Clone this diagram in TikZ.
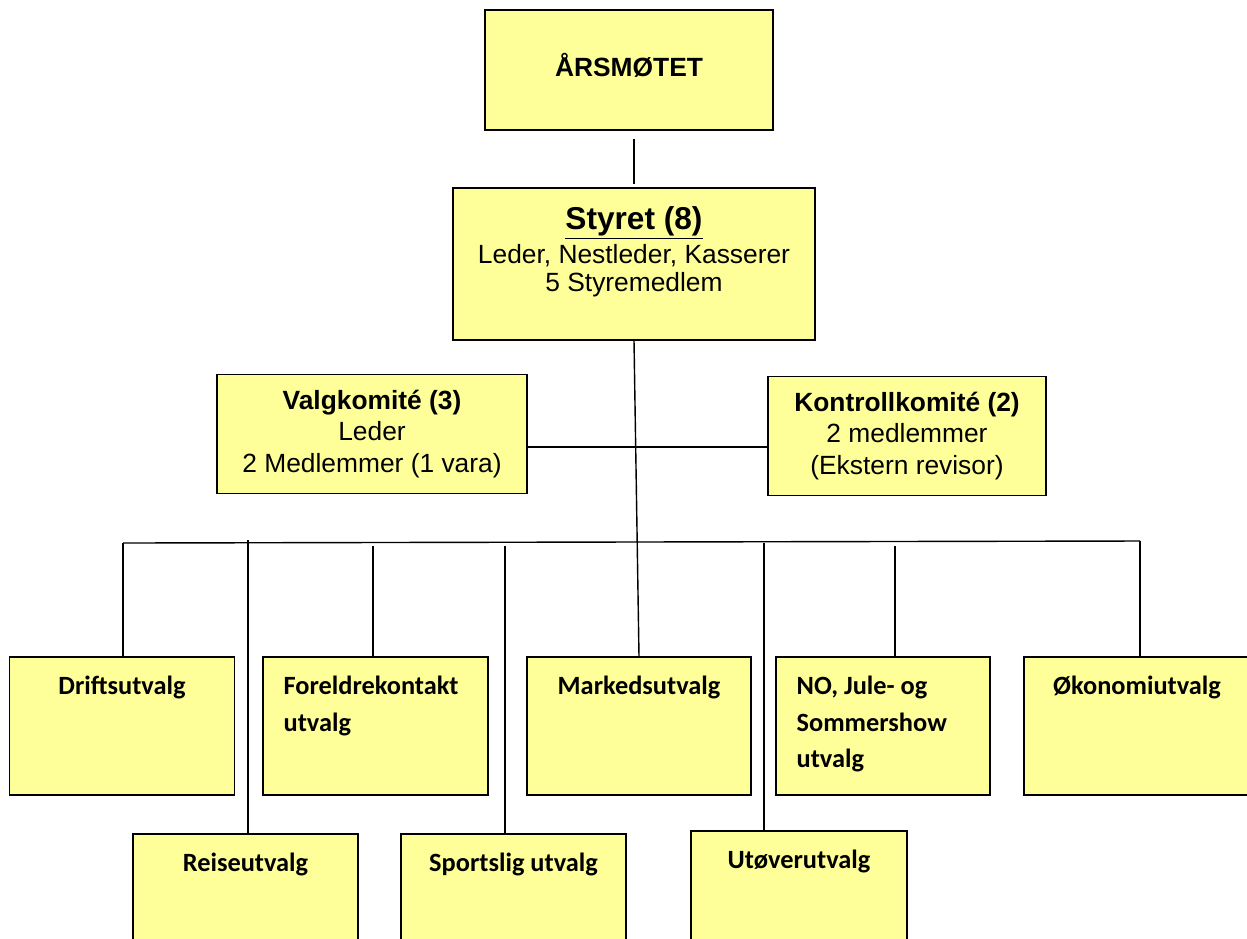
\documentclass[tikz,border=0pt]{standalone}
\usepackage{fontspec}
\setmainfont{Liberation Sans}
\newfontfamily\calibri{Carlito}
\definecolor{boxfill}{HTML}{FFFF99}
\tikzset{
	orgbox/.style={draw, line width=0.8pt, fill=boxfill, inner sep=0pt},
	boardtext/.style={font=\fontsize{15}{18}\selectfont, align=center},
	unittext/.style={font=\calibri\bfseries\fontsize{15}{21}\selectfont, inner sep=0pt, anchor=north, yshift=-0.38cm},
	unitleft/.style={unittext, anchor=north west, align=left, xshift=0.42cm},
	link/.style={line width=0.8pt}
}

\begin{document}
\begin{tikzpicture}[x=0.02cm, y=-0.02cm]
			%%%%% START %%%%%
			\useasboundingbox (0,0) rectangle (1247,938);
			\clip (0,0) rectangle (1247,938);
			
			% top
			\node[orgbox, minimum width=5.76cm, minimum height=2.4cm, label={[name=aarsmote-txt, boardtext, anchor=base, yshift=-1.34cm]north:\textbf{ÅRSMØTET}}] (aarsmote) at (629,70) {};
			\node[orgbox, minimum width=7.24cm, minimum height=3.04cm, label={[name=styret-txt, align=center, font=\fontsize{15}{16}\selectfont, anchor=north, inner sep=0pt, yshift=-0.38cm]north:{{\fontsize{18}{18}\selectfont\bfseries\underline{Styret (8)}}\\[1.6pt]Leder, Nestleder, Kasserer\\5 Styremedlem}}] (styret) at (634,264) {};
			
			\node[orgbox, boardtext, minimum width=6.2cm, minimum height=2.38cm] (valg) at (372,434) {\textbf{Valgkomité (3)}\\Leder\\2 Medlemmer (1 vara)};
			\node[orgbox, boardtext, minimum width=5.56cm, minimum height=2.38cm] (kontroll) at (907,436) {\textbf{Kontrollkomité (2)}\\2 medlemmer\\(Ekstern revisor)};
			
			% utvalg, upper row
			\node[orgbox, minimum width=4.5cm, minimum height=2.76cm, label={[name=drift-txt, unittext]north:Driftsutvalg}] (drift) at (122,726) {};
			\node[orgbox, minimum width=4.5cm, minimum height=2.76cm, label={[name=foreldre-txt, unitleft]north west:{Foreldrekontakt\\utvalg}}] (foreldre) at (375.5,726) {};
			\node[orgbox, minimum width=4.48cm, minimum height=2.76cm, label={[name=marked-txt, unittext]north:Markedsutvalg}] (marked) at (639,726) {};
			\node[orgbox, minimum width=4.28cm, minimum height=2.76cm, label={[name=no-txt, unitleft]north west:{NO, Jule- og\\Sommershow\\utvalg}}] (no) at (883,726) {};
			\node[orgbox, minimum width=4.52cm, minimum height=2.76cm, label={[name=okonomi-txt, unittext]north:Økonomiutvalg}] (okonomi) at (1137,726) {};
			
			% utvalg, lower row
			\node[orgbox, minimum width=4.5cm, minimum height=2.76cm, label={[name=reise-txt, unittext]north:Reiseutvalg}] (reise) at (245.5,903) {};
			\node[orgbox, minimum width=4.5cm, minimum height=2.76cm, label={[name=sport-txt, unittext]north:Sportslig utvalg}] (sport) at (513.5,903) {};
			\node[orgbox, minimum width=4.32cm, minimum height=2.76cm, label={[name=utover-txt, unittext]north:Utøverutvalg}] (utover) at (799,900) {};
			
			% lines
			\draw[link] ([yshift=-0.16cm]aarsmote.south -| styret.north) -- ([yshift=0.06cm]styret.north);
			\draw[link] (styret.south) -- (marked.north);
			\draw[link] ([yshift=-0.26cm]valg.east) -- ([yshift=-0.26cm]valg.east -| kontroll.west);
			
			\coordinate (bus-drift) at (123,543);
			\coordinate (bus-reise) at (248,540);
			\coordinate (bus-foreldre) at (373,546);
			\coordinate (bus-sport) at (505,546);
			\coordinate (bus-utover) at (764,543);
			\coordinate (bus-no) at (895,546);
			\coordinate (bus-okonomi) at (1140,541);
			
			\draw[link] (bus-drift) -- (bus-okonomi);
			\draw[link] (bus-drift) -- (bus-drift |- drift.north);
			\draw[link] (bus-reise) -- (bus-reise |- reise.north);
			\draw[link] (bus-foreldre) -- (bus-foreldre |- foreldre.north);
			\draw[link] (bus-sport) -- (bus-sport |- sport.north);
			\draw[link] (bus-utover) -- (bus-utover |- utover.north);
			\draw[link] (bus-no) -- (bus-no |- no.north);
			\draw[link] (bus-okonomi) -- (bus-okonomi |- okonomi.north);
			
			%%%%% END %%%%%
\end{tikzpicture}
\end{document}
